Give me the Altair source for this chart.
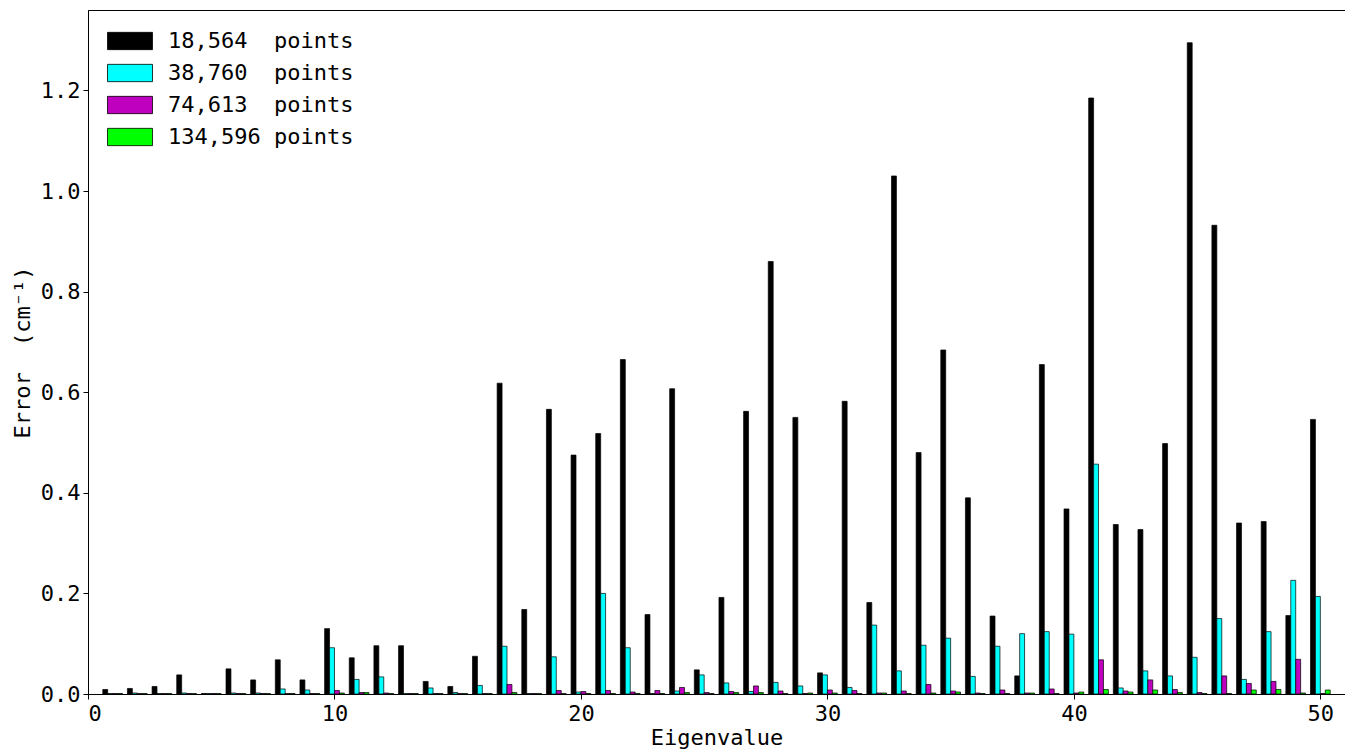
import altair as alt
import pandas as pd

eigen = list(range(1, 51))
series_labels = ["18,564\u00a0\u00a0points", "38,760\u00a0\u00a0points",
                 "74,613\u00a0\u00a0points", "134,596\u00a0points"]
series_colors = ["#000000", "#00ffff", "#bf00bf", "#00ff00"]

err_18564 = [0.009, 0.011, 0.015, 0.038, 0.001, 0.050, 0.028, 0.068, 0.028, 0.130,
             0.072, 0.096, 0.096, 0.025, 0.015, 0.075, 0.618, 0.168, 0.566, 0.475,
             0.518, 0.665, 0.158, 0.607, 0.048, 0.192, 0.562, 0.860, 0.550, 0.042,
             0.582, 0.182, 1.030, 0.480, 0.684, 0.390, 0.155, 0.036, 0.655, 0.368,
             1.185, 0.337, 0.327, 0.498, 1.295, 0.932, 0.340, 0.343, 0.156, 0.546]
err_38760 = [0.001, 0.002, 0.001, 0.002, 0.001, 0.002, 0.002, 0.010, 0.008, 0.092,
             0.029, 0.034, 0.001, 0.012, 0.003, 0.017, 0.095, 0.001, 0.074, 0.004,
             0.200, 0.092, 0.001, 0.006, 0.038, 0.022, 0.005, 0.023, 0.016, 0.038,
             0.013, 0.137, 0.046, 0.097, 0.111, 0.035, 0.095, 0.120, 0.124, 0.119,
             0.457, 0.012, 0.046, 0.036, 0.073, 0.150, 0.029, 0.124, 0.226, 0.194]
err_74613 = [0.001, 0.001, 0.001, 0.001, 0.001, 0.001, 0.001, 0.001, 0.001, 0.007,
             0.003, 0.002, 0.001, 0.001, 0.001, 0.001, 0.019, 0.001, 0.007, 0.005,
             0.007, 0.004, 0.007, 0.013, 0.003, 0.005, 0.016, 0.006, 0.001, 0.008,
             0.007, 0.002, 0.006, 0.019, 0.006, 0.002, 0.008, 0.002, 0.010, 0.002,
             0.068, 0.006, 0.028, 0.009, 0.003, 0.036, 0.021, 0.025, 0.069, 0.001]
err_134596 = [0.001, 0.001, 0.001, 0.001, 0.001, 0.001, 0.001, 0.001, 0.001, 0.002,
              0.003, 0.001, 0.001, 0.001, 0.001, 0.001, 0.003, 0.001, 0.001, 0.001,
              0.001, 0.001, 0.001, 0.003, 0.001, 0.003, 0.003, 0.001, 0.002, 0.002,
              0.001, 0.002, 0.001, 0.002, 0.004, 0.001, 0.001, 0.002, 0.001, 0.004,
              0.009, 0.004, 0.008, 0.003, 0.001, 0.001, 0.008, 0.009, 0.002, 0.008]

rows = []
for k, (lab, vals) in enumerate(zip(series_labels, [err_18564, err_38760, err_74613, err_134596])):
    for e, v in zip(eigen, vals):
        rows.append({"eig": e, "k": k, "series": lab, "err": v})
df = pd.DataFrame(rows)

font = "DejaVu Sans Mono"
fs = 22

chart = alt.Chart(df).transform_calculate(
    x0="datum.eig - 0.4 + 0.2*datum.k",
    x1="datum.eig - 0.2 + 0.2*datum.k",
).mark_bar(stroke="black", strokeWidth=0.7).encode(
    x=alt.X("x0:Q", scale=alt.Scale(domain=[0, 51], nice=False, zero=False),
            axis=alt.Axis(values=[0, 10, 20, 30, 40, 50], title="Eigenvalue", format="d",
                          labelPadding=4, titlePadding=3)),
    x2="x1:Q",
    y=alt.Y("err:Q", scale=alt.Scale(domain=[0, 1.36], nice=False),
            axis=alt.Axis(values=[0, 0.2, 0.4, 0.6, 0.8, 1.0, 1.2], format=".1f",
                          title="Error\u00a0\u00a0(cm\u207b\u00b9)", titlePadding=6)),
    y2=alt.datum(0),
    color=alt.Color("series:N",
                    scale=alt.Scale(domain=series_labels, range=series_colors),
                    legend=alt.Legend(title=None, orient="none", legendX=24, legendY=13,
                                      symbolType="M-1.3,-0.5H1.3V0.5H-1.3Z",
                                      symbolSize=1197, symbolStrokeColor="black",
                                      symbolStrokeWidth=0.8, symbolOpacity=1,
                                      labelFont=font, labelFontSize=fs, labelLimit=500,
                                      labelColor="black", rowPadding=3,
                                      labelOffset=20)),
).properties(
    width=1257, height=684,
    autosize=alt.AutoSizeParams(type="none"),
    padding={"left": 88, "top": 10, "right": 0, "bottom": 58},
).configure_view(
    stroke="black", strokeWidth=1
).configure_axis(
    grid=False, domainColor="black", tickColor="black", tickSize=5,
    labelFont=font, labelFontSize=fs, labelColor="black", labelPadding=3,
    titleFont=font, titleFontSize=fs, titleFontWeight="normal", titleColor="black",
)

chart.save("out.html", embed_options={"renderer": "svg", "actions": False})
